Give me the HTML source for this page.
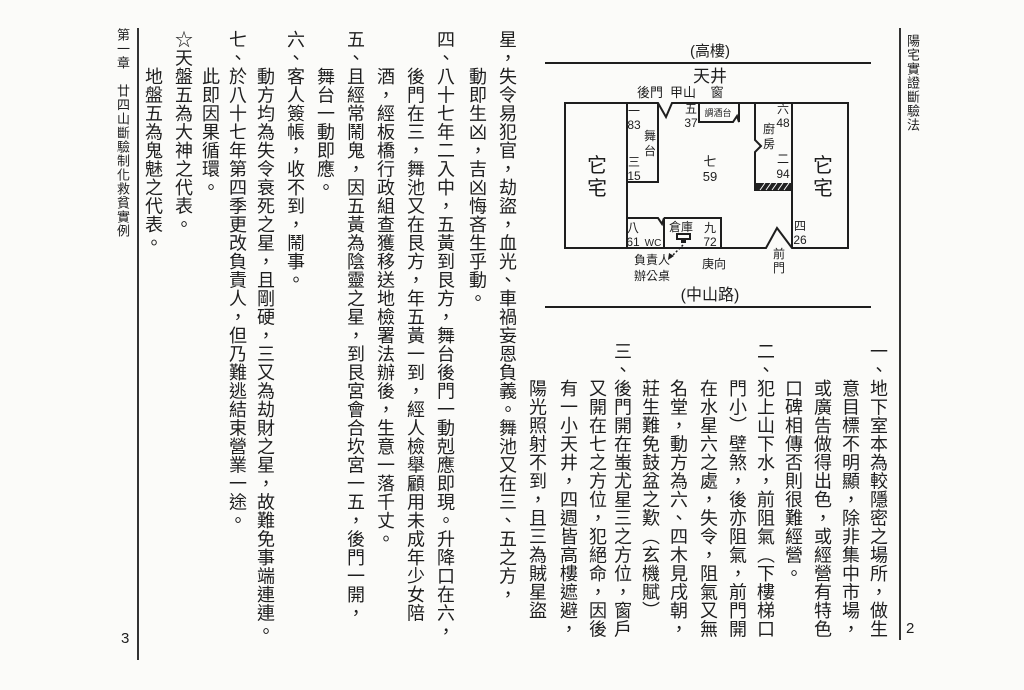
<!DOCTYPE html>
<html><head><meta charset="utf-8">
<style>
html,body{margin:0;padding:0;}
body{width:1024px;height:690px;background:#fbfbf9;position:relative;overflow:hidden;
font-family:"Liberation Sans","Noto Sans CJK TC",sans-serif;color:#1e1e1e;}
.c{position:absolute;writing-mode:vertical-rl;font-size:18px;letter-spacing:0.5px;line-height:20px;width:20px;white-space:nowrap;
font-family:"Liberation Sans","Noto Sans CJK TC",sans-serif;}
.h{position:absolute;writing-mode:vertical-rl;font-size:13px;letter-spacing:1px;line-height:14px;white-space:nowrap;}
svg{position:absolute;left:0;top:0;}
svg text{font-family:"Liberation Sans","Noto Sans CJK TC",sans-serif;fill:#1e1e1e;}
</style></head><body>

<!-- left page -->
<div class="c" style="left:497px;top:30px">星，失令易犯官，劫盜，血光、車禍妄恩負義。舞池又在三、五之方，</div>
<div class="c" style="left:467px;top:67px">動即生凶，吉凶悔吝生乎動。</div>
<div class="c" style="left:435px;top:30px">四、八十七年二入中，五黃到艮方，舞台後門一動剋應即現。升降口在六，</div>
<div class="c" style="left:405px;top:67px">後門在三，舞池又在艮方，年五黃一到，經人檢舉顧用未成年少女陪</div>
<div class="c" style="left:375px;top:67px">酒，經板橋行政組查獲移送地檢署法辦後，生意一落千丈。</div>
<div class="c" style="left:345px;top:30px">五、且經常鬧鬼，因五黃為陰靈之星，到艮宮會合坎宮一五，後門一開，</div>
<div class="c" style="left:315px;top:67px">舞台一動即應。</div>
<div class="c" style="left:285px;top:30px">六、客人簽帳，收不到，鬧事。</div>
<div class="c" style="left:255px;top:67px">動方均為失令衰死之星，且剛硬，三又為劫財之星，故難免事端連連。</div>
<div class="c" style="left:227px;top:30px">七、於八十七年第四季更改負責人，但乃難逃結束營業一途。</div>
<div class="c" style="left:200px;top:67px">此即因果循環。</div>
<div class="c" style="left:173px;top:30px">☆天盤五為大神之代表。</div>
<div class="c" style="left:143px;top:67px">地盤五為鬼魅之代表。</div>
<div class="h" style="left:115px;top:28px">第一章　廿四山斷驗制化救貧實例</div>
<div style="position:absolute;left:137px;top:28px;width:1.5px;height:632px;background:#333"></div>
<div style="position:absolute;left:121px;top:630px;font-size:15px">3</div>

<!-- right page -->
<div class="c" style="left:868px;top:342px">一、地下室本為較隱密之場所，做生</div>
<div class="c" style="left:840px;top:379px">意目標不明顯，除非集中市場，</div>
<div class="c" style="left:812px;top:379px">或廣告做得出色，或經營有特色</div>
<div class="c" style="left:783px;top:379px">口碑相傳否則很難經營。</div>
<div class="c" style="left:755px;top:342px">二、犯上山下水，前阻氣（下樓梯口</div>
<div class="c" style="left:727px;top:379px">門小）壁煞，後亦阻氣，前門開</div>
<div class="c" style="left:698px;top:379px">在水星六之處，失令，阻氣又無</div>
<div class="c" style="left:668px;top:379px">名堂，動方為六、四木見戌朝，</div>
<div class="c" style="left:640px;top:379px">莊生難免鼓盆之歎（玄機賦）</div>
<div class="c" style="left:612px;top:342px">三、後門開在蚩尤星三之方位，窗戶</div>
<div class="c" style="left:587px;top:379px">又開在七之方位，犯絕命，因後</div>
<div class="c" style="left:558px;top:379px">有一小天井，四週皆高樓遮避，</div>
<div class="c" style="left:527px;top:379px">陽光照射不到，且三為賊星盜</div>
<div class="h" style="left:905px;top:34px">陽宅實證斷驗法</div>
<div style="position:absolute;left:899px;top:28px;width:1.5px;height:612px;background:#333"></div>
<div style="position:absolute;left:906px;top:620px;font-size:15px">2</div>

<svg width="1024" height="690" viewBox="0 0 1024 690">
<g stroke="#1e1e1e" fill="none" stroke-width="2">
<line x1="545" y1="63" x2="871" y2="63"/>
<line x1="545" y1="307" x2="871" y2="307"/>
<!-- outer box with notches -->
<path d="M565 103 H658 L666 117 L672 103 H848 V248 H792 L777 228 L766 248 H565 Z"/>
<line x1="627" y1="103" x2="627" y2="248"/>
<line x1="792" y1="103" x2="792" y2="248"/>
<!-- 舞台 -->
<path d="M627 182 H658 V103"/>
<!-- 調酒台 -->
<path d="M699 103 V122 H733 L737 116 L739 122 V103"/>
<!-- 廚房 -->
<path d="M755 103 V140 L761 146 L755 152 V190 H792"/>
<!-- bottom rooms -->
<path d="M627 218 H658 L662 224 L664 218 V248"/>
<path d="M664 218 H721 V248"/>
</g>
<rect x="756" y="183" width="36" height="7" fill="#222"/>
<g stroke="#fff" stroke-width="1"><line x1="760" y1="190" x2="765" y2="183"/><line x1="766" y1="190" x2="771" y2="183"/><line x1="772" y1="190" x2="777" y2="183"/><line x1="778" y1="190" x2="783" y2="183"/><line x1="784" y1="190" x2="789" y2="183"/></g>
<rect x="677" y="234" width="13" height="5" fill="none" stroke="#1e1e1e" stroke-width="2"/>
<rect x="681" y="239" width="5" height="4" fill="#1e1e1e"/>
<line x1="683" y1="245" x2="670" y2="258" stroke="#1e1e1e" stroke-width="1.5" stroke-dasharray="2,2"/>
<path d="M668 260 L669 253 L674 256 Z" fill="#1e1e1e"/>

<g font-size="15" text-anchor="middle">
<text x="710" y="56">(高樓)</text>
<text x="710" y="82" font-size="17">天井</text>
<text x="650" y="97" font-size="13">後門</text>
<text x="683" y="97" font-size="13">甲山</text>
<text x="717" y="97" font-size="13">窗</text>
<text x="597" y="172" font-size="20">它</text>
<text x="597" y="195" font-size="20">宅</text>
<text x="823" y="172" font-size="20">它</text>
<text x="823" y="195" font-size="20">宅</text>
<g font-size="12">
<text x="634" y="115">一</text><text x="634" y="129">83</text>
<text x="650" y="140">舞</text><text x="650" y="155">台</text>
<text x="634" y="166">三</text><text x="634" y="180">15</text>
<text x="691" y="113">五</text><text x="691" y="127">37</text>
<text x="718" y="116" font-size="9">調酒台</text>
<text x="783" y="113">六</text><text x="783" y="127">48</text>
<text x="769" y="133">廚</text><text x="769" y="148">房</text>
<text x="783" y="163">二</text><text x="783" y="178">94</text>
<text x="710" y="166" font-size="13">七</text><text x="710" y="181" font-size="13">59</text>
<text x="633" y="232">八</text><text x="633" y="246">61</text>
<text x="653" y="246" font-size="10">WC</text>
<text x="681" y="231">倉庫</text>
<text x="710" y="232">九</text><text x="710" y="246">72</text>
<text x="800" y="230">四</text><text x="800" y="244">26</text>
<text x="779" y="258">前</text><text x="779" y="272">門</text>
<text x="652" y="264">負責人</text>
<text x="652" y="280">辦公桌</text>
<text x="714" y="268">庚向</text>
</g>
<text x="710" y="300" font-size="16">(中山路)</text>
</g>
</svg>
</body></html>
